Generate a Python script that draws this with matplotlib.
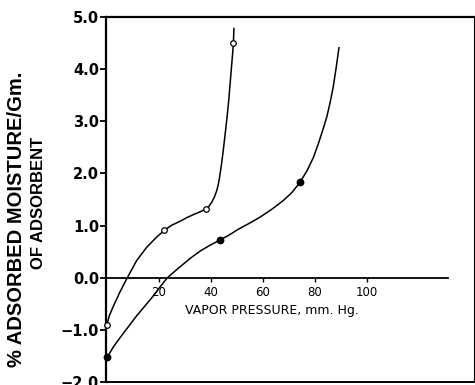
import matplotlib
matplotlib.use("Agg")
import matplotlib.pyplot as plt

# ---- data ----
open_pts_x = [0, 22, 38, 48.6]
open_pts_y = [-0.9, 0.92, 1.31, 4.5]
filled_pts_x = [0, 43.3, 74.2]
filled_pts_y = [-1.53, 0.72, 1.83]

open_curve_x = [0, 0.8, 2.4, 5.0, 7.8, 11.4, 15.2, 19.1, 22.3, 25.0, 28.0, 30.6, 33.2, 35.6,
                37.7, 39.2, 40.3, 41.3, 42.2, 42.8, 43.3, 43.8, 44.4, 45.0, 45.6, 46.2,
                46.8, 47.3, 47.8, 48.3, 48.6, 48.8]
open_curve_y = [-0.9, -0.74, -0.55, -0.27, 0.0, 0.33, 0.58, 0.78, 0.92, 1.01, 1.08, 1.15, 1.21,
                1.26, 1.31, 1.37, 1.45, 1.55, 1.67, 1.79, 1.93, 2.1, 2.32, 2.57, 2.83, 3.1,
                3.4, 3.7, 4.0, 4.3, 4.5, 4.78]

filled_curve_x = [0, 2.4, 5.0, 8.2, 11.4, 14.6, 17.8, 20.5, 23.2, 26.2, 29.3, 32.5, 35.8,
                  39.5, 43.3, 47.0, 50.5, 54.6, 58.8, 63.3, 67.8, 71.2, 74.2, 76.9, 79.4,
                  81.2, 82.9, 84.5, 85.8, 87.0, 88.1, 89.2]
filled_curve_y = [-1.53, -1.33, -1.15, -0.94, -0.73, -0.54, -0.35, -0.17, 0.0, 0.13, 0.26,
                  0.39, 0.51, 0.62, 0.72, 0.82, 0.93, 1.04, 1.16, 1.31, 1.48, 1.64, 1.83,
                  2.05, 2.31, 2.56, 2.82, 3.08, 3.36, 3.66, 4.02, 4.41]

x_ticks = [20, 40, 60, 80, 100]
x_tick_labels = ["20", "40", "60", "80", "100"]
y_ticks = [5, 4, 3, 2, 1, 0, -1, -2]
y_tick_labels = ["5.0", "4.0", "3.0", "2.0", "1.0", "0.0", "\u22121.0", "\u22122.0"]

ylabel1 = "% ADSORBED MOISTURE/Gm."
ylabel2 = "OF ADSORBENT"
xlabel = "VAPOR PRESSURE, mm. Hg."

W, H = 475, 385
fig = plt.figure(figsize=(W / 100, H / 100), dpi=100)
ax = fig.add_axes([106 / W, 3 / H, 368 / W, 365 / H])
ax.set_xlim(-0.4, -0.4 + 368 / 2.6)
ax.set_ylim(-2, 5)

ax.plot(open_curve_x, open_curve_y, color="black", lw=1.1, clip_on=False, zorder=2,
        solid_joinstyle="round")
ax.plot(filled_curve_x, filled_curve_y, color="black", lw=1.1, clip_on=False, zorder=2,
        solid_joinstyle="round")
ax.plot(open_pts_x, open_pts_y, "o", ms=4, mfc="white", mec="black", mew=0.9,
        clip_on=False, zorder=3)
ax.plot(filled_pts_x, filled_pts_y, "o", ms=4.6, mfc="black", mec="black",
        clip_on=False, zorder=3)

# spines
ax.spines["left"].set_linewidth(1.6)
ax.spines["top"].set_linewidth(1.6)
ax.spines["right"].set_linewidth(0.8)
ax.spines["bottom"].set_position(("data", 0))
ax.spines["bottom"].set_bounds(0, 131)
ax.spines["bottom"].set_linewidth(1.3)
ax.axhline(-2, color="black", lw=1.4, clip_on=False)

ax.set_xticks(x_ticks)
ax.set_xticklabels(x_tick_labels, fontsize=8.5)
ax.tick_params(axis="x", direction="out", length=3, width=1, pad=3)
ax.set_yticks(y_ticks)
ax.set_yticklabels(y_tick_labels, fontsize=10.5, fontweight="bold")
ax.tick_params(axis="y", direction="out", length=4, width=1.3, pad=1)

ax.text(63.5, -0.635, xlabel, ha="center", va="center", fontsize=9)

fig.text(17 / W, 1 - 219 / H, ylabel1, rotation=90, ha="center", va="center",
         fontsize=14.5, fontweight="bold", family="Liberation Sans")
fig.text(38.5 / W, 1 - 203 / H, ylabel2, rotation=90, ha="center", va="center",
         fontsize=12, fontweight="bold", family="Liberation Sans")

fig.savefig("out.png", dpi=100)
